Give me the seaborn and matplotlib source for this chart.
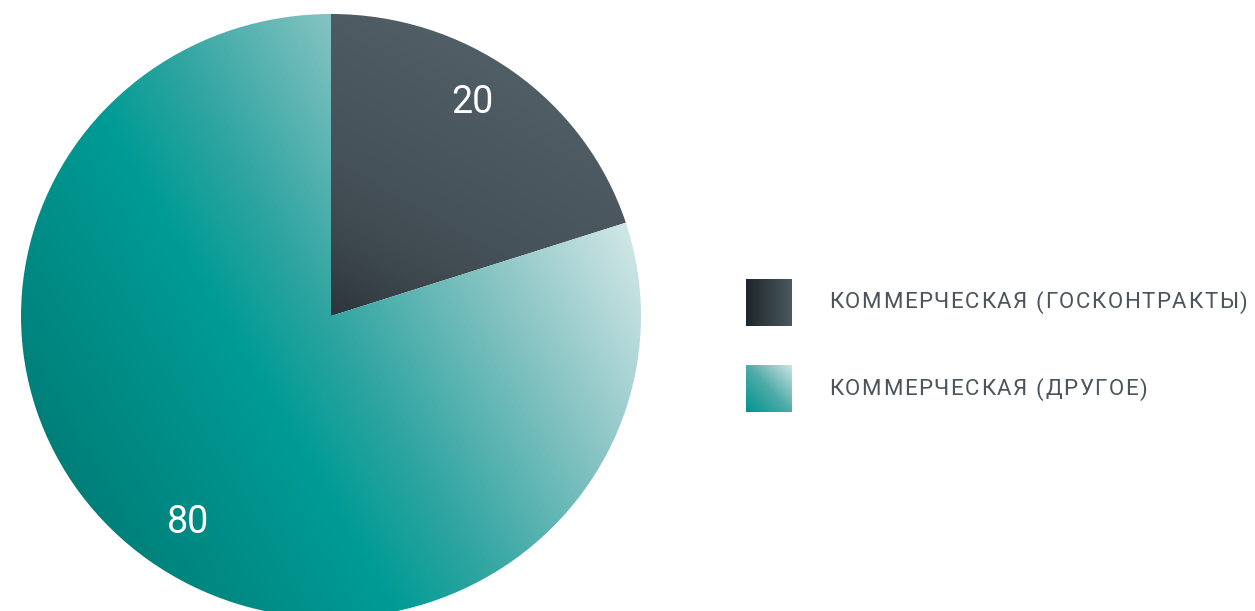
import numpy as np
import matplotlib
matplotlib.use("Agg")
import matplotlib.pyplot as plt
from matplotlib.colors import LinearSegmentedColormap
import seaborn as sns

# Chart data
categories = ["КОММЕРЧЕСКАЯ (ГОСКОНТРАКТЫ)", "КОММЕРЧЕСКАЯ (ДРУГОЕ)"]
values = [20, 80]

sns.set_theme(style="white")
plt.rcParams["font.family"] = ["Roboto", "DejaVu Sans"]

W, H, DPI = 1255, 611, 100
fig = plt.figure(figsize=(W / DPI, H / DPI), dpi=DPI)
fig.patch.set_facecolor("white")

# Pie axes, placed in pixel terms (slightly wider than tall, bottom runs off the canvas)
cx, cy, rx, ry = 331, 316, 310, 302
ax = fig.add_axes([(cx - rx) / W, (H - (cy + ry)) / H, 2 * rx / W, 2 * ry / H])

wedges, _ = ax.pie(values, startangle=90, counterclock=False, radius=1,
                   wedgeprops=dict(linewidth=0))
ax.set_aspect("auto")
ax.axis("off")

n = 900
gx, gy = np.meshgrid(np.linspace(-1, 1, n), np.linspace(1, -1, n))


def ramp(stops):
    return LinearSegmentedColormap.from_list(
        "g", [((p + 1) / 2, c) for p, c in stops])


def directional(deg):
    a = np.deg2rad(deg)
    p = gx * np.cos(a) + gy * np.sin(a)
    return (np.clip(p, -1, 1) + 1) / 2


# Diagonal gradient fills, dark at lower left and light toward upper right
dark_cmap = ramp([(-1.0, "#262e33"), (0.0, "#2b353b"), (0.05, "#30393f"),
                  (0.24, "#3d484e"), (0.48, "#465259"), (0.8, "#4c5960"),
                  (1.0, "#505e65")])
teal_cmap = ramp([(-1.0, "#007f79"), (-0.87, "#00857f"), (-0.31, "#009b95"),
                  (0.0, "#30a5a1"), (0.48, "#82c2c1"), (0.87, "#c0dede"),
                  (1.0, "#d2e8e8")])
fills = [(dark_cmap, directional(60)), (teal_cmap, directional(30))]

for wedge, (cmap, grad) in zip(wedges, fills):
    wedge.set_facecolor("none")
    img = ax.imshow(grad, cmap=cmap, vmin=0, vmax=1, extent=(-1, 1, -1, 1),
                    interpolation="bilinear", aspect="auto", zorder=1)
    img.set_clip_path(wedge)
ax.set_xlim(-1, 1)
ax.set_ylim(-1, 1)

# Value labels inside each slice
total = sum(values)
start = 90.0
label_r = [0.84, 0.826]
label_shift = [3.2, 2.0]
for v, r, sh in zip(values, label_r, label_shift):
    sweep = 360.0 * v / total
    mid = np.deg2rad(start - sweep / 2 + sh)
    ax.text(r * np.cos(mid), r * np.sin(mid), f"{v}", color="white",
            fontsize=27, ha="center", va="center", zorder=3)
    start -= sweep

# Legend drawn in pixel coordinates
lax = fig.add_axes([0, 0, 1, 1])
lax.axis("off")
lax.set_xlim(0, W)
lax.set_ylim(H, 0)
renderer = fig.canvas.get_renderer()


def spaced_text(x, y, s, spacing, **kw):
    """Draw a string with extra tracking between characters."""
    for i, ch in enumerate(s):
        if i:
            probe = lax.text(0, 0, s[:i], **kw)
            w = probe.get_window_extent(renderer).width
            probe.remove()
        else:
            w = 0.0
        lax.text(x + w + i * spacing, y, ch, ha="left", va="center", **kw)


sq = np.linspace(0, 1, 200)
sx, sy = np.meshgrid(sq, sq[::-1])
legend_imgs = [
    (LinearSegmentedColormap.from_list("l1", ["#1e262b", "#4b585f"]), sx),
    (LinearSegmentedColormap.from_list("l2", ["#00958f", "#4faba8", "#cbe4e4"]),
     (sx + sy) / 2),
]
rows_y = [302.5, 389]
for (cmap, grad), yc, name in zip(legend_imgs, rows_y, categories):
    lax.imshow(grad, cmap=cmap, vmin=0, vmax=1,
               extent=(746, 792, yc + 23.5, yc - 23.5),
               interpolation="bilinear", aspect="auto")
    spaced_text(829, yc + 0.5, name, 1.6, fontsize=16, color="#4b555b")
lax.set_xlim(0, W)
lax.set_ylim(H, 0)

fig.savefig("out.png", dpi=DPI, facecolor="white")
